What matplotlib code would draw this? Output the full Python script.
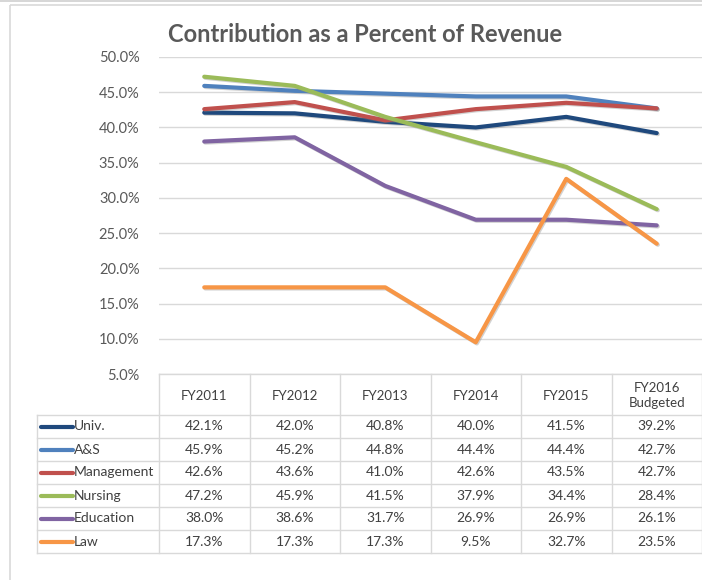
import matplotlib
matplotlib.use('Agg')
import matplotlib.pyplot as plt
import matplotlib.patheffects as pe
import matplotlib.transforms as mtransforms
from matplotlib.ticker import FuncFormatter, MultipleLocator

years = ['FY2011', 'FY2012', 'FY2013', 'FY2014', 'FY2015', 'FY2016\nBudgeted']
series_names = ['Univ.', 'A&S', 'Management', 'Nursing', 'Education', 'Law']
univ = [42.1, 42.0, 40.8, 40.0, 41.5, 39.2]
arts_sci = [45.9, 45.2, 44.8, 44.4, 44.4, 42.7]
management = [42.6, 43.6, 41.0, 42.6, 43.5, 42.7]
nursing = [47.2, 45.9, 41.5, 37.9, 34.4, 28.4]
education = [38.0, 38.6, 31.7, 26.9, 26.9, 26.1]
law = [17.3, 17.3, 17.3, 9.5, 32.7, 23.5]
series_values = [univ, arts_sci, management, nursing, education, law]
colors = ['#1F497D', '#4F81BD', '#C0504D', '#9BBB59', '#8064A2', '#F79646']

W, H = 702, 580
text_col = '#404040'
grid_col = '#d9d9d9'

plt.rcParams['font.family'] = ['Lato', 'DejaVu Sans']

fig = plt.figure(figsize=(W / 100, H / 100), dpi=100)

# background layer in pixel coords (frame + table)
bg = fig.add_axes([0, 0, 1, 1], zorder=0)
bg.set_xlim(0, W)
bg.set_ylim(H, 0)
bg.axis('off')

# chart frame
bg.plot([0, W], [1, 1], color='#d0d0d0', lw=1.2)
bg.add_patch(plt.Rectangle((10, 5), W + 20, H + 20, fill=False, ec='#d9d9d9', lw=1.2))

# main plot
left, right = 159, 702
top, bottom = 57, 374
ax = fig.add_axes([left / W, (H - bottom) / H, (right - left) / W, (bottom - top) / H], zorder=1)
ax.patch.set_alpha(0)
x = list(range(len(years)))
for name, vals, c in zip(series_names, series_values, colors):
    ax.plot(x, vals, color=c, lw=3, solid_capstyle='round', solid_joinstyle='round',
            path_effects=[pe.SimpleLineShadow(offset=(0.8, -0.8), shadow_color='#808080', alpha=0.35),
                          pe.Normal()])
ax.set_xlim(-0.5, len(years) - 0.5)
ax.set_ylim(5, 50)
ax.yaxis.set_major_locator(MultipleLocator(5))
ax.yaxis.set_major_formatter(FuncFormatter(lambda v, p: f'{v:.1f}%'))
ax.grid(axis='y', color=grid_col, lw=1)
ax.set_axisbelow(True)
ax.set_xticks([])
ax.tick_params(axis='y', length=0, pad=14, labelsize=10.5, labelcolor='#595959')
for s in ax.spines.values():
    s.set_visible(False)

fig.text(365 / W, 1 - 34 / H, 'Contribution as a Percent of Revenue', ha='center', va='center',
         fontsize=17, fontweight='bold', color='#595959')

# data table below the plot
trans = mtransforms.blended_transform_factory(ax.transData, bg.transData)
head_top, head_bot = 374, 415
row_h = 23
tab_left = 37
n_rows = len(series_names)
tab_bot = head_bot + n_rows * row_h

bg.plot([left, W], [head_top, head_top], color=grid_col, lw=1)
for i in range(len(years) + 1):
    bg.plot([i - 0.5, i - 0.5], [head_top, tab_bot], color=grid_col, lw=1, transform=trans)
bg.plot([tab_left, tab_left], [head_bot, tab_bot], color=grid_col, lw=1)
for r in range(n_rows + 1):
    y = head_bot + r * row_h
    bg.plot([tab_left, W], [y, y], color=grid_col, lw=1)

for i, yr in enumerate(years):
    bg.text(i, (head_top + head_bot) / 2 + 1, yr, ha='center', va='center', fontsize=9.5,
            color=text_col, linespacing=1.3, transform=trans)

for r, (name, vals, c) in enumerate(zip(series_names, series_values, colors)):
    yc = head_bot + r * row_h + row_h / 2
    bg.plot([41, 73], [yc, yc], color=c, lw=3, solid_capstyle='round')
    bg.text(74, yc, name, ha='left', va='center', fontsize=10, color=text_col)
    for i, v in enumerate(vals):
        bg.text(i, yc, f'{v:.1f}%', ha='center', va='center', fontsize=10,
                color=text_col, transform=trans)

fig.savefig('out.png', dpi=100)
